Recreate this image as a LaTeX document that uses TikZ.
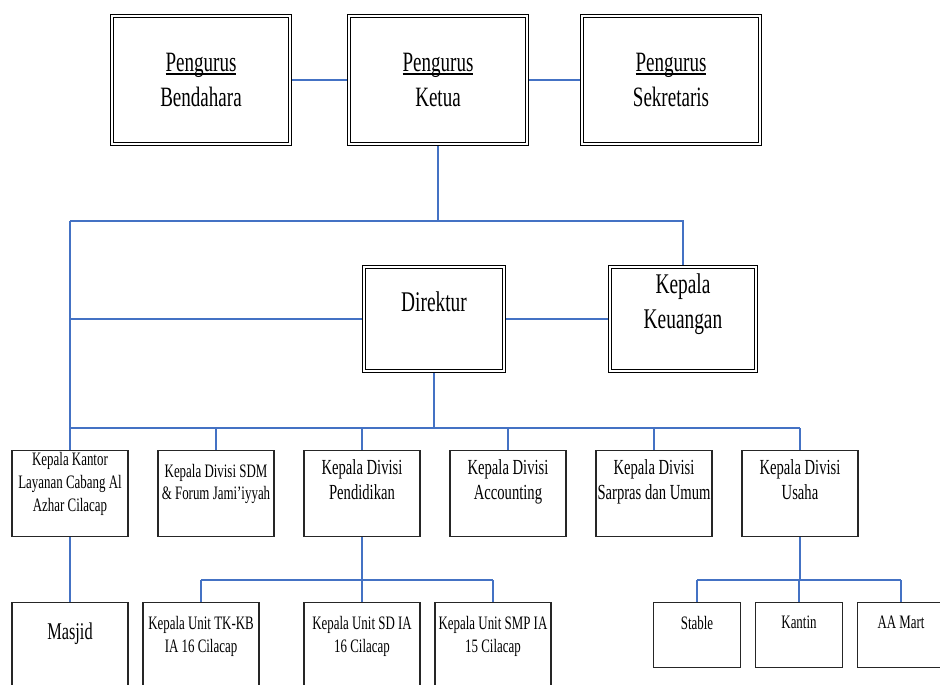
\documentclass[tikz,border=0pt]{standalone}
\usepackage{fontspec}
\setmainfont{Liberation Serif}[FakeStretch=0.68]
\usetikzlibrary{backgrounds}
\definecolor{connc}{HTML}{4472C4}
\newcommand\pgul[1]{\setbox0=\hbox{#1}\rlap{\rule[-3.5pt]{\wd0}{1.1pt}}\box0}
\begin{document}
\begin{tikzpicture}[x=1pt,y=-1pt,
  dbox/.style={draw=black, line width=1.1pt, double=white, double distance=1.8pt, inner sep=0pt, rectangle},
  sbox/.style={draw=black!85, line width=1.5pt, inner sep=0pt, rectangle},
  txt/.style={inner sep=0pt, align=center, anchor=north},
  conn/.style={draw=connc, line width=1.5pt},
  topw/.style={minimum width=178pt, minimum height=128pt},
  l3/.style={sbox, minimum width=115.6pt, minimum height=85.6pt},
  l4/.style={sbox, minimum width=115.6pt, minimum height=88.6pt},
  l4s/.style={sbox, minimum width=86.6pt, minimum height=64.6pt},
  ftop/.style={font=\fontsize{28}{35}\selectfont},
  fl3/.style={font=\fontsize{21.5}{25}\selectfont},
  fsm/.style={font=\fontsize{19}{23}\selectfont}]
\useasboundingbox (0,0) rectangle (940,685);
% top level
\node[dbox, topw] (bend) at (201,80) {};
\node[dbox, topw] (ketua) at (438,80) {};
\node[dbox, topw] (sekr) at (671,80) {};
\node[txt, ftop] (tbend) at (201,52.5) {\pgul{Pengurus}\\Bendahara};
\node[txt, ftop] (tketua) at (438,52.5) {\pgul{Pengurus}\\Ketua};
\node[txt, ftop] (tsekr) at (671,52.5) {\pgul{Pengurus}\\Sekretaris};
% second level
\node[dbox, minimum width=140pt, minimum height=104pt] (dir) at (434,319) {};
\node[dbox, minimum width=146pt, minimum height=104pt] (keu) at (683,319) {};
\node[txt, font=\fontsize{28.5}{35}\selectfont] (tdir) at (434,291.5) {Direktur};
\node[txt, font=\fontsize{28.5}{35}\selectfont] (tkeu) at (683,273.5) {Kepala\\Keuangan};
% third level
\node[l3] (kantor) at (70,493.5) {};
\node[l3] (sdm) at (216,493.5) {};
\node[l3] (pend) at (362,493.5) {};
\node[l3] (acc) at (508,493.5) {};
\node[l3] (sar) at (654,493.5) {};
\node[l3] (usaha) at (800,493.5) {};
\node[txt, fsm] (tkantor) at (70,452) {Kepala Kantor\\Layanan Cabang Al\\Azhar Cilacap};
\node[txt, font=\fontsize{19}{22}\selectfont] (tsdm) at (216,464) {Kepala Divisi SDM\\\& Forum Jami’iyyah};
\node[txt, fl3] (tpend) at (362,459.3) {Kepala Divisi\\Pendidikan};
\node[txt, fl3] (tacc) at (508,459.3) {Kepala Divisi\\Accounting};
\node[txt, fl3] (tsar) at (654,459.3) {Kepala Divisi\\Sarpras dan Umum};
\node[txt, fl3] (tusaha) at (800,459.3) {Kepala Divisi\\Usaha};
% fourth level
\node[l4] (masjid) at (70,647) {};
\node[l4] (tk) at (201,647) {};
\node[l4] (sd) at (362,647) {};
\node[l4] (smp) at (493,647) {};
\node[l4s] (stable) at (697,635) {};
\node[l4s] (kantin) at (799,635) {};
\node[l4s] (aamart) at (901,635) {};
\node[txt, font=\fontsize{24}{28}\selectfont] (tmasjid) at (70,622.6) {Masjid};
\node[txt, fsm] (ttk) at (201,616) {Kepala Unit TK-KB\\IA 16 Cilacap};
\node[txt, fsm] (tsd) at (362,616) {Kepala Unit SD IA\\16 Cilacap};
\node[txt, fsm] (tsmp) at (493,616) {Kepala Unit SMP IA\\15 Cilacap};
\node[txt, fsm] (tstable) at (697,616) {Stable};
\node[txt, fsm] (tkantin) at (799,616) {Kantin};
\node[txt, fsm] (taamart) at (901,616) {AA Mart};
% bus coordinates
\coordinate (b1) at (0,221);
\coordinate (b2) at (0,428);
\coordinate (b3) at (0,580);
\begin{pgfonlayer}{background}
\fill[white] (0,0) rectangle (940,685);
\draw[conn] (bend.east) -- (ketua.west);
\draw[conn] (ketua.east) -- (sekr.west);
\draw[conn] (ketua.south) -- (ketua.south |- b1);
\draw[conn] (kantor.north |- b1) -- (keu.north |- b1) -- (keu.north);
\draw[conn] (kantor.north |- b1) -- (kantor.north);
\draw[conn] (kantor.north |- dir.west) -- (dir.west);
\draw[conn] (dir.east) -- (keu.west);
\draw[conn] (dir.south) -- (dir.south |- b2);
\draw[conn] (kantor.north |- b2) -- (usaha.north |- b2);
\foreach \n in {sdm,pend,acc,sar,usaha} {\draw[conn] (\n.north |- b2) -- (\n.north);}
\draw[conn] (kantor.south) -- (masjid.north);
\draw[conn] (pend.south) -- (pend.south |- b3);
\draw[conn] (tk.north |- b3) -- (smp.north |- b3);
\foreach \n in {tk,sd,smp} {\draw[conn] (\n.north |- b3) -- (\n.north);}
\draw[conn] (usaha.south) -- (usaha.south |- b3);
\draw[conn] (stable.north |- b3) -- (aamart.north |- b3);
\foreach \n in {stable,kantin,aamart} {\draw[conn] (\n.north |- b3) -- (\n.north);}
\end{pgfonlayer}
\end{tikzpicture}
\end{document}
